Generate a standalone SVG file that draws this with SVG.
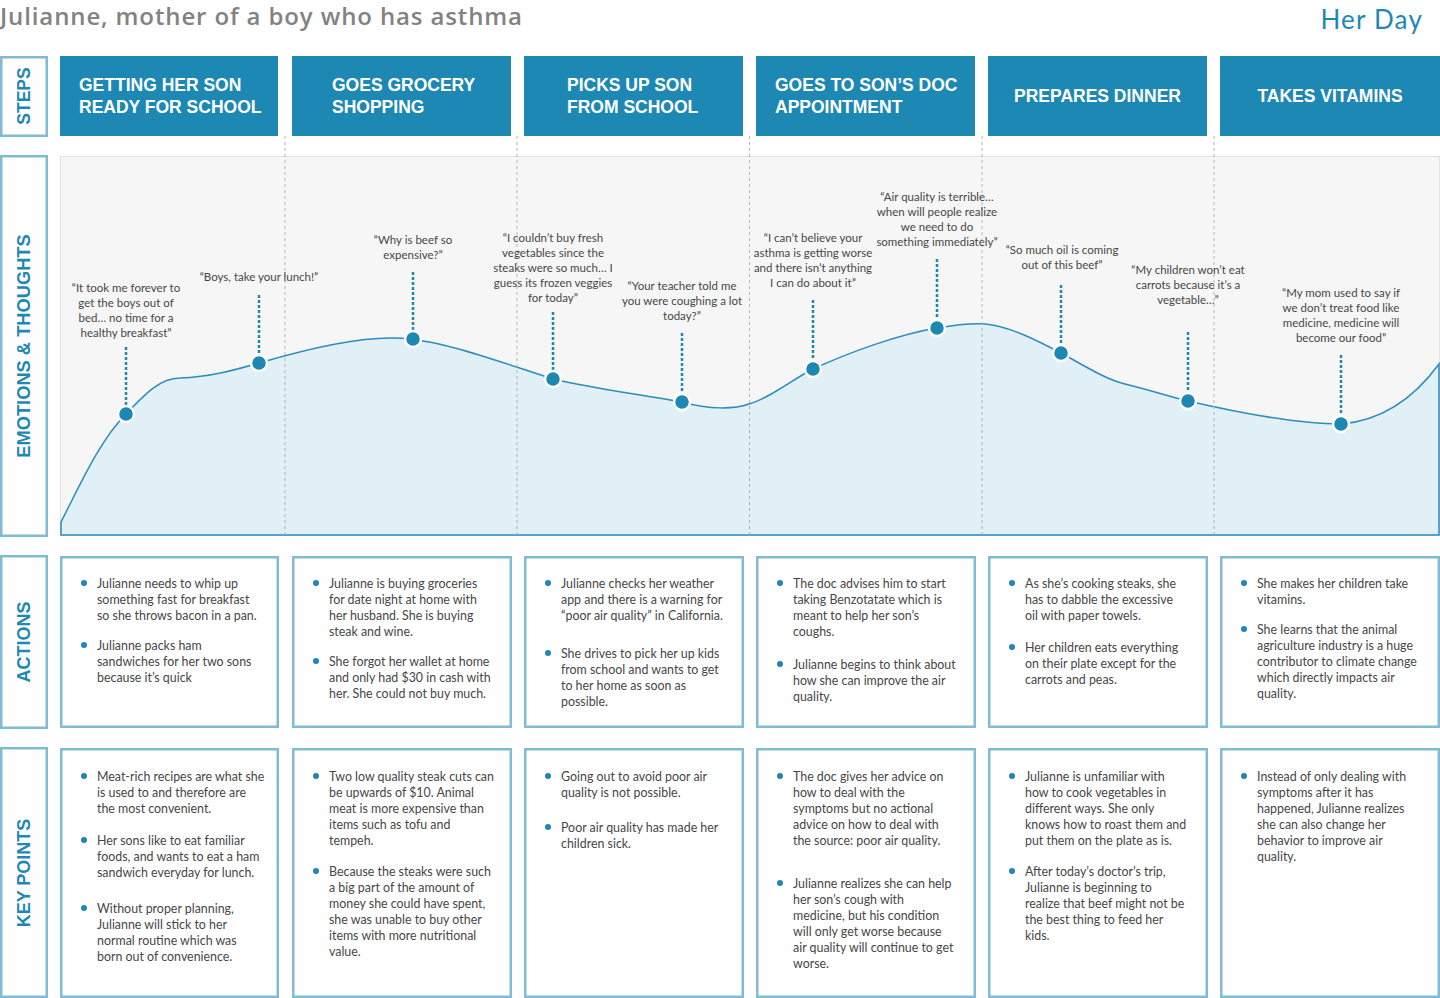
<svg xmlns="http://www.w3.org/2000/svg" width="1440" height="998" viewBox="0 0 1440 998">
  <style>
    .title { font-family: "Open Sans", "Liberation Sans", sans-serif; font-weight: 600; font-size: 24px; fill: #828282; }
    .day { font-family: Lato, "Liberation Sans", sans-serif; font-size: 26px; fill: #1e88b4; letter-spacing: 1.2px; }
    .lane { fill: #ffffff; stroke: #7fbcd4; stroke-width: 2.5; }
    .lane-t { font-family: "Liberation Sans", Arial, sans-serif; font-weight: 700; font-size: 17.5px; fill: #1e88b4; text-anchor: middle; }
    .step { fill: #1e88b4; }
    .step-t { font-family: "Liberation Sans", Arial, sans-serif; font-weight: 700; font-size: 17.5px; fill: #ffffff; }
    .card { fill: #ffffff; stroke: #7fbcd4; stroke-width: 2.5; }
    .body { font-family: Lato, "Liberation Sans", sans-serif; font-size: 12.4px; fill: #464646; }
    .quote { font-family: Lato, "Liberation Sans", sans-serif; font-size: 11.5px; fill: #464646; text-anchor: middle; }
    .bullet { fill: #1e88b4; }
    .sep { stroke: #b4b4b4; stroke-width: 1; stroke-dasharray: 3 3; fill: none; }
    .stem { stroke: #1e88b4; stroke-width: 2.5; stroke-dasharray: 3 2; fill: none; }
    .dot { fill: #1e88b4; stroke: #ffffff; stroke-width: 2.5; }
  </style>

  <!-- header -->
  <text class="title" x="0" y="25" textLength="522" lengthAdjust="spacing">Julianne, mother of a boy who has asthma</text>
  <text class="day" x="1423" y="29" text-anchor="end">Her Day</text>

  <!-- row labels -->
  <g id="label-steps">
    <rect class="lane" x="1.25" y="57.25" width="45.5" height="78.5"/>
    <text class="lane-t" transform="translate(30,96) rotate(-90)">STEPS</text>
  </g>
  <g id="label-emotions">
    <rect class="lane" x="1.25" y="156.25" width="45.5" height="379.5"/>
    <text class="lane-t" transform="translate(30,346) rotate(-90)" style="font-size:18.3px">EMOTIONS &amp; THOUGHTS</text>
  </g>
  <g id="label-actions">
    <rect class="lane" x="1.25" y="556.25" width="45.5" height="171.5"/>
    <text class="lane-t" transform="translate(30,642) rotate(-90)" style="font-size:18px">ACTIONS</text>
  </g>
  <g id="label-keypoints">
    <rect class="lane" x="1.25" y="748.25" width="45.5" height="248.5"/>
    <text class="lane-t" transform="translate(30,873) rotate(-90)" style="font-size:18px">KEY POINTS</text>
  </g>

  <!-- steps -->
  <g id="step-1">
    <rect class="step" x="60" y="56" width="218" height="80"/>
    <text class="step-t" x="79" y="91">GETTING HER SON<tspan x="79" dy="22">READY FOR SCHOOL</tspan></text>
  </g>
  <g id="step-2">
    <rect class="step" x="292" y="56" width="219" height="80"/>
    <text class="step-t" x="332" y="91">GOES GROCERY<tspan x="332" dy="22">SHOPPING</tspan></text>
  </g>
  <g id="step-3">
    <rect class="step" x="524" y="56" width="219" height="80"/>
    <text class="step-t" x="567" y="91">PICKS UP SON<tspan x="567" dy="22">FROM SCHOOL</tspan></text>
  </g>
  <g id="step-4">
    <rect class="step" x="756" y="56" width="219" height="80"/>
    <text class="step-t" x="775" y="91">GOES TO SON’S DOC<tspan x="775" dy="22">APPOINTMENT</tspan></text>
  </g>
  <g id="step-5">
    <rect class="step" x="988" y="56" width="219" height="80"/>
    <text class="step-t" x="1097.5" y="102" text-anchor="middle">PREPARES DINNER</text>
  </g>
  <g id="step-6">
    <rect class="step" x="1220" y="56" width="220" height="80"/>
    <text class="step-t" x="1330" y="102" text-anchor="middle">TAKES VITAMINS</text>
  </g>

  <!-- emotion chart -->
  <g id="emotion-chart">
    <rect x="60.5" y="156.5" width="1379" height="379" fill="#f6f6f6" stroke="#e2e2e2" stroke-width="1"/>
    <path d="M61,522 C80,485 100,440 126,414 C145,394 160,378 180,378 C210,377 235,370 259,363 C310,348 360,337 395,338 C440,339 500,362 553,379 C600,390 640,394 682,402 C710,410 735,409 749,404 C770,398 790,381 813,369 C850,352 900,334 937,328 C960,324 975,323 985,324 C1010,326 1040,342 1061,353 C1085,366 1105,379 1125,384 C1150,390 1170,397 1188,401 C1240,413 1300,424 1341,424 C1390,420 1420,390 1439,364 L1439,535 L61,535 Z" fill="#e1eff7" stroke="#2b8cbd" stroke-width="1.5"/>
  </g>

  <!-- column separators -->
  <g id="separators">
    <line class="sep" x1="285" y1="136" x2="285" y2="536"/>
    <line class="sep" x1="517" y1="136" x2="517" y2="536"/>
    <line class="sep" x1="749.5" y1="136" x2="749.5" y2="536"/>
    <line class="sep" x1="982" y1="136" x2="982" y2="536"/>
    <line class="sep" x1="1214" y1="136" x2="1214" y2="536"/>
  </g>

  <!-- connectors: quote stems -->
  <g id="connectors">
    <line class="stem" x1="126" y1="347" x2="126" y2="406"/>
    <line class="stem" x1="259" y1="295" x2="259" y2="355"/>
    <line class="stem" x1="413" y1="272" x2="413" y2="331"/>
    <line class="stem" x1="553" y1="312" x2="553" y2="371"/>
    <line class="stem" x1="682" y1="333" x2="682" y2="394"/>
    <line class="stem" x1="813" y1="300" x2="813" y2="361"/>
    <line class="stem" x1="937" y1="259" x2="937" y2="320"/>
    <line class="stem" x1="1061" y1="285" x2="1061" y2="345"/>
    <line class="stem" x1="1188" y1="332" x2="1188" y2="393"/>
    <line class="stem" x1="1341" y1="355" x2="1341" y2="416"/>
  </g>

  <!-- thought points -->
  <g id="thought-1">
    <circle class="dot" cx="126" cy="414" r="8"/>
    <text class="quote" x="126" y="292">“It took me forever to<tspan x="126" dy="15">get the boys out of</tspan><tspan x="126" dy="15">bed… no time for a</tspan><tspan x="126" dy="15">healthy breakfast”</tspan></text>
  </g>
  <g id="thought-2">
    <circle class="dot" cx="259" cy="363" r="8"/>
    <text class="quote" x="259" y="281">“Boys, take your lunch!”</text>
  </g>
  <g id="thought-3">
    <circle class="dot" cx="413" cy="339" r="8"/>
    <text class="quote" x="413" y="244">“Why is beef so<tspan x="413" dy="15">expensive?”</tspan></text>
  </g>
  <g id="thought-4">
    <circle class="dot" cx="553" cy="379" r="8"/>
    <text class="quote" x="553" y="242">“I couldn’t buy fresh<tspan x="553" dy="15">vegetables since the</tspan><tspan x="553" dy="15">steaks were so much… I</tspan><tspan x="553" dy="15">guess its frozen veggies</tspan><tspan x="553" dy="15">for today”</tspan></text>
  </g>
  <g id="thought-5">
    <circle class="dot" cx="682" cy="402" r="8"/>
    <text class="quote" x="682" y="290">“Your teacher told me<tspan x="682" dy="15">you were coughing a lot</tspan><tspan x="682" dy="15">today?”</tspan></text>
  </g>
  <g id="thought-6">
    <circle class="dot" cx="813" cy="369" r="8"/>
    <text class="quote" x="813" y="242">“I can’t believe your<tspan x="813" dy="15">asthma is getting worse</tspan><tspan x="813" dy="15">and there isn’t anything</tspan><tspan x="813" dy="15">I can do about it”</tspan></text>
  </g>
  <g id="thought-7">
    <circle class="dot" cx="937" cy="328" r="8"/>
    <text class="quote" x="937" y="201">“Air quality is terrible…<tspan x="937" dy="15">when will people realize</tspan><tspan x="937" dy="15">we need to do</tspan><tspan x="937" dy="15">something immediately”</tspan></text>
  </g>
  <g id="thought-8">
    <circle class="dot" cx="1061" cy="353" r="8"/>
    <text class="quote" x="1062" y="254">“So much oil is coming<tspan x="1062" dy="15">out of this beef”</tspan></text>
  </g>
  <g id="thought-9">
    <circle class="dot" cx="1188" cy="401" r="8"/>
    <text class="quote" x="1188" y="274">“My children won’t eat<tspan x="1188" dy="15">carrots because it’s a</tspan><tspan x="1188" dy="15">vegetable…”</tspan></text>
  </g>
  <g id="thought-10">
    <circle class="dot" cx="1341" cy="424" r="8"/>
    <text class="quote" x="1341" y="297">“My mom used to say if<tspan x="1341" dy="15">we don’t treat food like</tspan><tspan x="1341" dy="15">medicine, medicine will</tspan><tspan x="1341" dy="15">become our food”</tspan></text>
  </g>

  <!-- actions -->
  <g id="action-1">
    <rect class="card" x="61.25" y="557.25" width="216.5" height="169.5"/>
    <circle class="bullet" cx="84" cy="583" r="3"/>
    <text class="body" x="97" y="588">Julianne needs to whip up<tspan x="97" dy="16">something fast for breakfast</tspan><tspan x="97" dy="16">so she throws bacon in a pan.</tspan></text>
    <circle class="bullet" cx="84" cy="645" r="3"/>
    <text class="body" x="97" y="650">Julianne packs ham<tspan x="97" dy="16">sandwiches for her two sons</tspan><tspan x="97" dy="16">because it’s quick</tspan></text>
  </g>
  <g id="action-2">
    <rect class="card" x="293.25" y="557.25" width="217.5" height="169.5"/>
    <circle class="bullet" cx="316" cy="583" r="3"/>
    <text class="body" x="329" y="588">Julianne is buying groceries<tspan x="329" dy="16">for date night at home with</tspan><tspan x="329" dy="16">her husband. She is buying</tspan><tspan x="329" dy="16">steak and wine.</tspan></text>
    <circle class="bullet" cx="316" cy="661" r="3"/>
    <text class="body" x="329" y="666">She forgot her wallet at home<tspan x="329" dy="16">and only had $30 in cash with</tspan><tspan x="329" dy="16">her. She could not buy much.</tspan></text>
  </g>
  <g id="action-3">
    <rect class="card" x="525.25" y="557.25" width="217.5" height="169.5"/>
    <circle class="bullet" cx="548" cy="583" r="3"/>
    <text class="body" x="561" y="588">Julianne checks her weather<tspan x="561" dy="16">app and there is a warning for</tspan><tspan x="561" dy="16">“poor air quality” in California.</tspan></text>
    <circle class="bullet" cx="548" cy="653" r="3"/>
    <text class="body" x="561" y="658">She drives to pick her up kids<tspan x="561" dy="16">from school and wants to get</tspan><tspan x="561" dy="16">to her home as soon as</tspan><tspan x="561" dy="16">possible.</tspan></text>
  </g>
  <g id="action-4">
    <rect class="card" x="757.25" y="557.25" width="217.5" height="169.5"/>
    <circle class="bullet" cx="780" cy="583" r="3"/>
    <text class="body" x="793" y="588">The doc advises him to start<tspan x="793" dy="16">taking Benzotatate which is</tspan><tspan x="793" dy="16">meant to help her son’s</tspan><tspan x="793" dy="16">coughs.</tspan></text>
    <circle class="bullet" cx="780" cy="664" r="3"/>
    <text class="body" x="793" y="669">Julianne begins to think about<tspan x="793" dy="16">how she can improve the air</tspan><tspan x="793" dy="16">quality.</tspan></text>
  </g>
  <g id="action-5">
    <rect class="card" x="989.25" y="557.25" width="217.5" height="169.5"/>
    <circle class="bullet" cx="1012" cy="583" r="3"/>
    <text class="body" x="1025" y="588">As she’s cooking steaks, she<tspan x="1025" dy="16">has to dabble the excessive</tspan><tspan x="1025" dy="16">oil with paper towels.</tspan></text>
    <circle class="bullet" cx="1012" cy="647" r="3"/>
    <text class="body" x="1025" y="652">Her children eats everything<tspan x="1025" dy="16">on their plate except for the</tspan><tspan x="1025" dy="16">carrots and peas.</tspan></text>
  </g>
  <g id="action-6">
    <rect class="card" x="1221.25" y="557.25" width="217.5" height="169.5"/>
    <circle class="bullet" cx="1244" cy="583" r="3"/>
    <text class="body" x="1257" y="588">She makes her children take<tspan x="1257" dy="16">vitamins.</tspan></text>
    <circle class="bullet" cx="1244" cy="629" r="3"/>
    <text class="body" x="1257" y="634">She learns that the animal<tspan x="1257" dy="16">agriculture industry is a huge</tspan><tspan x="1257" dy="16">contributor to climate change</tspan><tspan x="1257" dy="16">which directly impacts air</tspan><tspan x="1257" dy="16">quality.</tspan></text>
  </g>

  <!-- key points -->
  <g id="keypoint-1">
    <rect class="card" x="61.25" y="749.25" width="216.5" height="247.5"/>
    <circle class="bullet" cx="84" cy="776" r="3"/>
    <text class="body" x="97" y="781">Meat-rich recipes are what she<tspan x="97" dy="16">is used to and therefore are</tspan><tspan x="97" dy="16">the most convenient.</tspan></text>
    <circle class="bullet" cx="84" cy="840" r="3"/>
    <text class="body" x="97" y="845">Her sons like to eat familiar<tspan x="97" dy="16">foods, and wants to eat a ham</tspan><tspan x="97" dy="16">sandwich everyday for lunch.</tspan></text>
    <circle class="bullet" cx="84" cy="908" r="3"/>
    <text class="body" x="97" y="913">Without proper planning,<tspan x="97" dy="16">Julianne will stick to her</tspan><tspan x="97" dy="16">normal routine which was</tspan><tspan x="97" dy="16">born out of convenience.</tspan></text>
  </g>
  <g id="keypoint-2">
    <rect class="card" x="293.25" y="749.25" width="217.5" height="247.5"/>
    <circle class="bullet" cx="316" cy="776" r="3"/>
    <text class="body" x="329" y="781">Two low quality steak cuts can<tspan x="329" dy="16">be upwards of $10. Animal</tspan><tspan x="329" dy="16">meat is more expensive than</tspan><tspan x="329" dy="16">items such as tofu and</tspan><tspan x="329" dy="16">tempeh.</tspan></text>
    <circle class="bullet" cx="316" cy="871" r="3"/>
    <text class="body" x="329" y="876">Because the steaks were such<tspan x="329" dy="16">a big part of the amount of</tspan><tspan x="329" dy="16">money she could have spent,</tspan><tspan x="329" dy="16">she was unable to buy other</tspan><tspan x="329" dy="16">items with more nutritional</tspan><tspan x="329" dy="16">value.</tspan></text>
  </g>
  <g id="keypoint-3">
    <rect class="card" x="525.25" y="749.25" width="217.5" height="247.5"/>
    <circle class="bullet" cx="548" cy="776" r="3"/>
    <text class="body" x="561" y="781">Going out to avoid poor air<tspan x="561" dy="16">quality is not possible.</tspan></text>
    <circle class="bullet" cx="548" cy="827" r="3"/>
    <text class="body" x="561" y="832">Poor air quality has made her<tspan x="561" dy="16">children sick.</tspan></text>
  </g>
  <g id="keypoint-4">
    <rect class="card" x="757.25" y="749.25" width="217.5" height="247.5"/>
    <circle class="bullet" cx="780" cy="776" r="3"/>
    <text class="body" x="793" y="781">The doc gives her advice on<tspan x="793" dy="16">how to deal with the</tspan><tspan x="793" dy="16">symptoms but no actional</tspan><tspan x="793" dy="16">advice on how to deal with</tspan><tspan x="793" dy="16">the source: poor air quality.</tspan></text>
    <circle class="bullet" cx="780" cy="883" r="3"/>
    <text class="body" x="793" y="888">Julianne realizes she can help<tspan x="793" dy="16">her son’s cough with</tspan><tspan x="793" dy="16">medicine, but his condition</tspan><tspan x="793" dy="16">will only get worse because</tspan><tspan x="793" dy="16">air quality will continue to get</tspan><tspan x="793" dy="16">worse.</tspan></text>
  </g>
  <g id="keypoint-5">
    <rect class="card" x="989.25" y="749.25" width="217.5" height="247.5"/>
    <circle class="bullet" cx="1012" cy="776" r="3"/>
    <text class="body" x="1025" y="781">Julianne is unfamiliar with<tspan x="1025" dy="16">how to cook vegetables in</tspan><tspan x="1025" dy="16">different ways. She only</tspan><tspan x="1025" dy="16">knows how to roast them and</tspan><tspan x="1025" dy="16">put them on the plate as is.</tspan></text>
    <circle class="bullet" cx="1012" cy="871" r="3"/>
    <text class="body" x="1025" y="876">After today’s doctor’s trip,<tspan x="1025" dy="16">Julianne is beginning to</tspan><tspan x="1025" dy="16">realize that beef might not be</tspan><tspan x="1025" dy="16">the best thing to feed her</tspan><tspan x="1025" dy="16">kids.</tspan></text>
  </g>
  <g id="keypoint-6">
    <rect class="card" x="1221.25" y="749.25" width="217.5" height="247.5"/>
    <circle class="bullet" cx="1244" cy="776" r="3"/>
    <text class="body" x="1257" y="781">Instead of only dealing with<tspan x="1257" dy="16">symptoms after it has</tspan><tspan x="1257" dy="16">happened,  Julianne realizes</tspan><tspan x="1257" dy="16">she can also change her</tspan><tspan x="1257" dy="16">behavior to improve air</tspan><tspan x="1257" dy="16">quality.</tspan></text>
  </g>
</svg>
